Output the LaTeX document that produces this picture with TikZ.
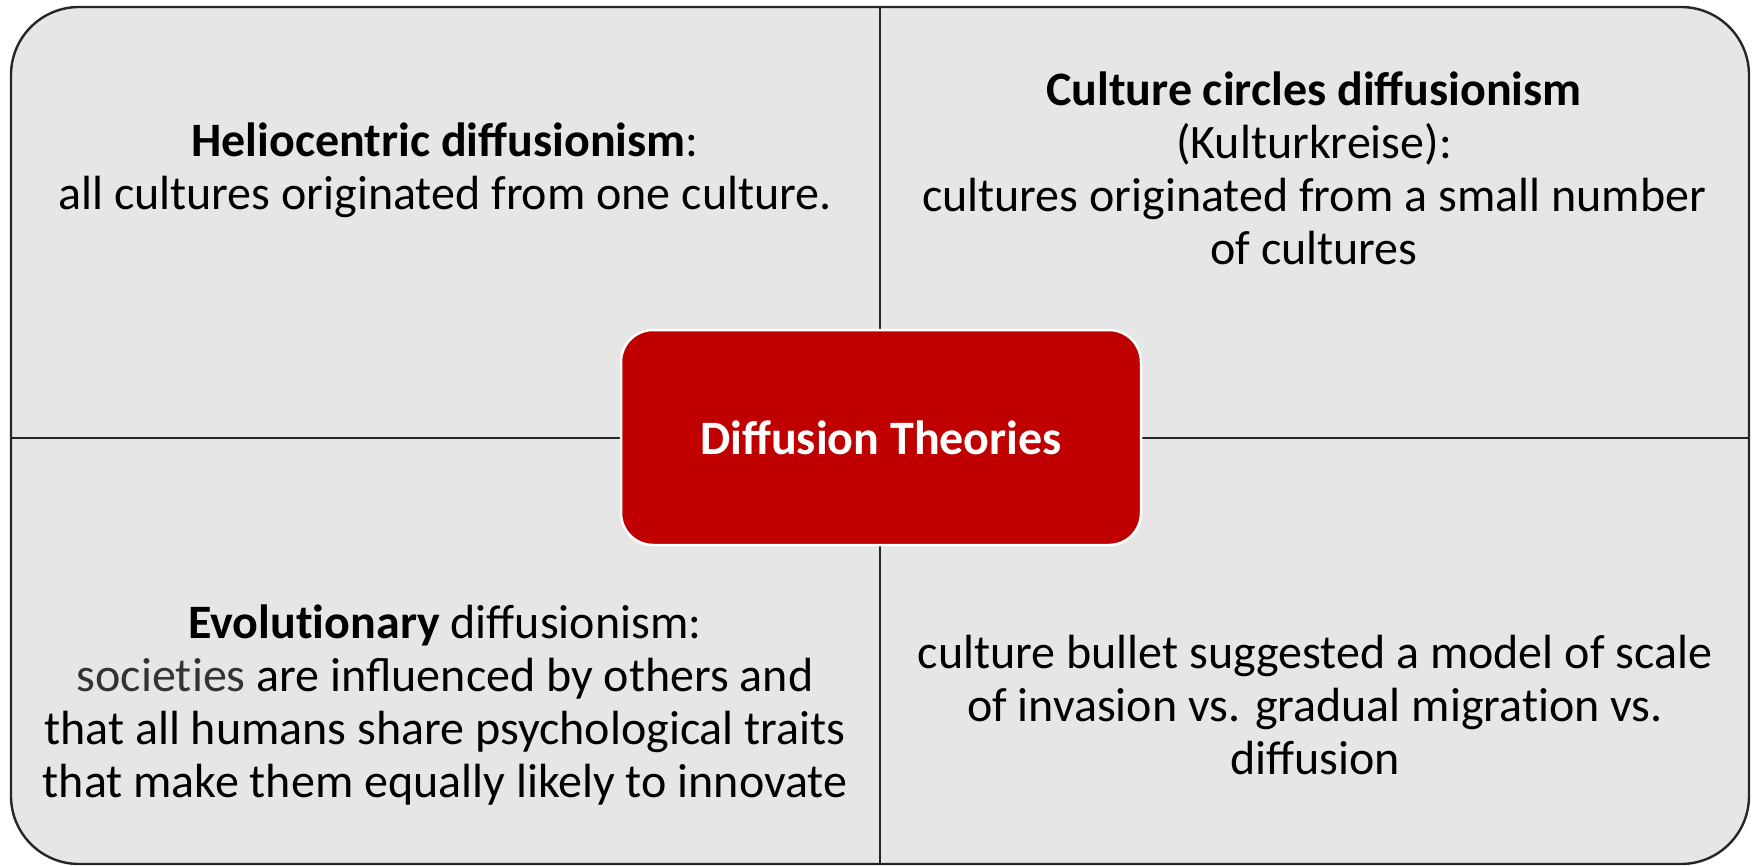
\documentclass[tikz,border=0pt]{standalone}
\usepackage{fontspec}
\setmainfont{Carlito}
\definecolor{panelgray}{HTML}{E6E6E6}
\definecolor{edgegray}{HTML}{262626}
\definecolor{darkred}{HTML}{C00000}
\newcommand{\nolig}{\kern0pt }
\begin{document}
\begin{tikzpicture}[x=1pt,y=-1pt,
  quadtext/.style={align=center,font=\fontsize{48}{53}\selectfont,text=black,inner sep=0pt},
  divider/.style={draw=edgegray,line width=2.6pt},
  hub/.style={draw=white,line width=2.5pt,fill=darkred,rounded corners=32pt,
    minimum width=520pt,minimum height=215pt,text=white,
    font=\fontsize{48}{53}\selectfont\bfseries}]
\useasboundingbox (0,0) rectangle (1754,865);
\draw[fill=panelgray,draw=edgegray,line width=2.4pt,rounded corners=68pt] (11,7) rectangle (1749,864);
\coordinate (ttop) at (880,7);
\coordinate (tbot) at (880,864);
\coordinate (tleft) at (11,438);
\coordinate (tright) at (1749,438);
\draw[divider] (ttop) -- (tbot);
\draw[divider] (tleft) -- (tright);
\node[hub] (hubnode) at (881,437.5) {Diffusion Theories};
\node[quadtext] (helio) at (445,170) {\textbf{Heliocentric diffusionism}:\\all cultures originated from one culture.};
\node[quadtext] (circles) at (1314,168) {\textbf{Culture circles diffusionism}\\(Kulturkreise):\\cultures originated from a small number\\of cultures};
\node[quadtext] (evol) at (445,705) {\textbf{Evolut\nolig ionary} diffusionism:\\{\color{black!80}socie\nolig t\nolig ies} are influenced by others and\\that all humans share psychological traits\\that make them equally likely to innovate};
\node[quadtext] (bullet) at (1315,705) {culture bullet suggested a model of scale\\of invasion vs. gradual migrat\nolig ion vs.\\diffusion};
\end{tikzpicture}
\end{document}
